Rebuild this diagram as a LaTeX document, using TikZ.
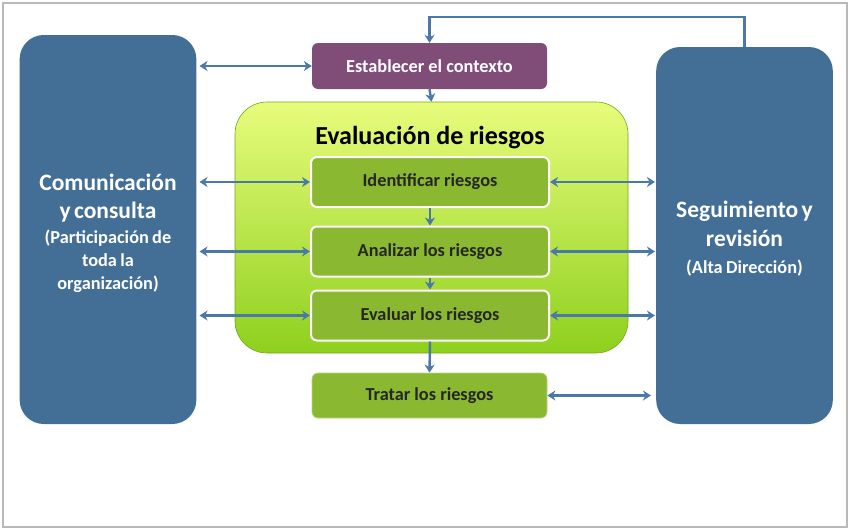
\documentclass[tikz,border=0pt]{standalone}
\usepackage{fontspec}
\setmainfont{Carlito}
\usepackage{tikz}
\usetikzlibrary{positioning,
				arrows.meta,
				calc}
\definecolor{azulcaja}{RGB}{67,111,151}
\definecolor{azulflecha}{RGB}{74,120,168}
\definecolor{morado}{RGB}{128,76,120}
\definecolor{verdecaja}{RGB}{138,184,48}
\definecolor{verdeclaro}{RGB}{232,252,124}
\definecolor{verdeoscuro}{RGB}{142,208,30}

\begin{document}
\begin{tikzpicture}[x=1pt, y=-1pt,
		lado/.style={fill=azulcaja, rounded corners=24pt, minimum width=176pt, text=white, text width=170pt, align=center, font=\bfseries},
		paso/.style={fill=verdecaja, draw=white, line width=2pt, rounded corners=6pt, minimum width=238pt, minimum height=50pt, text=black!85, font=\bfseries\fontsize{18.3}{20}\selectfont},
		flecha/.style={draw=azulflecha, line width=2.4pt, {Stealth[length=8pt,width=10pt]}-{Stealth[length=8pt,width=10pt]}},
		baja/.style={draw=azulflecha, line width=2.4pt, -{Stealth[length=8pt,width=10pt]}}]
			\useasboundingbox (0,0) rectangle (850,530);
			\draw[gray!55, line width=1.2pt] (3,3) rectangle (847,527);
			% cajas laterales
			\node[lado, minimum height=389pt] (comunica) at (108,229.5)
				{\fontsize{23.5}{28}\selectfont Comunicación\\ y consulta\par\vspace{2pt}
				 \fontsize{18.3}{23}\selectfont (Participación de\\ toda la\\ organización)\par\vspace{-8pt}};
			\node[lado, minimum height=377pt] (seguim) at (744.5,235.5)
				{\fontsize{23.5}{29}\selectfont Seguimiento y\\ revisión\par
				 \fontsize{18.3}{27}\selectfont (Alta Dirección)\par\vspace{-7pt}};
			% evaluacion
			\node[rounded corners=32pt, minimum width=393pt, minimum height=251pt,
				top color=verdeclaro, bottom color=verdeoscuro, draw=verdeoscuro!80!black, line width=.6pt]
				(evaluacion) at (431.5,227.5) {};
			\node[font=\bfseries\fontsize{26}{28}\selectfont] (titulo) at (430,138) {Evaluación de riesgos};
			\node[fill=morado, rounded corners=6pt, minimum width=235pt, minimum height=46pt, text=white,
				font=\bfseries\fontsize{18.3}{20}\selectfont] (contexto) at (429.5,66) {Establecer el contexto};
			\node[paso] (identificar) at (430,182) {Identificar riesgos};
			\node[paso] (analizar) at (430,251.5) {Analizar los riesgos};
			\node[paso] (evaluar) at (430,315.5) {Evaluar los riesgos};
			\node[paso, draw=verdecaja!60!white, line width=.8pt, minimum width=235pt, minimum height=45pt] (tratar) at (429.5,395.5) {Tratar los riesgos};
			% flechas verticales
			\draw[baja] (contexto.south) -- (evaluacion.north);
			\draw[baja] (identificar.south) -- (analizar.north);
			\draw[baja] (analizar.south) -- (evaluar.north);
			\draw[baja] (evaluar.south) -- (tratar.north);
			\draw[baja] (seguim.north) -- ++(0,-30) -| (contexto.north);
			% flechas izquierda
			\foreach \n in {contexto,identificar,analizar,evaluar}
				\draw[flecha, shorten <=3pt] (comunica.east |- \n) -- (\n.west);
			% flechas derecha
			\foreach \n in {identificar,analizar,evaluar}
				\draw[flecha, shorten >=1pt] (\n.east) -- (seguim.west |- \n);
			\draw[flecha, shorten >=5pt] (tratar.east) -- (seguim.west |- tratar);
		\end{tikzpicture}
\end{document}
